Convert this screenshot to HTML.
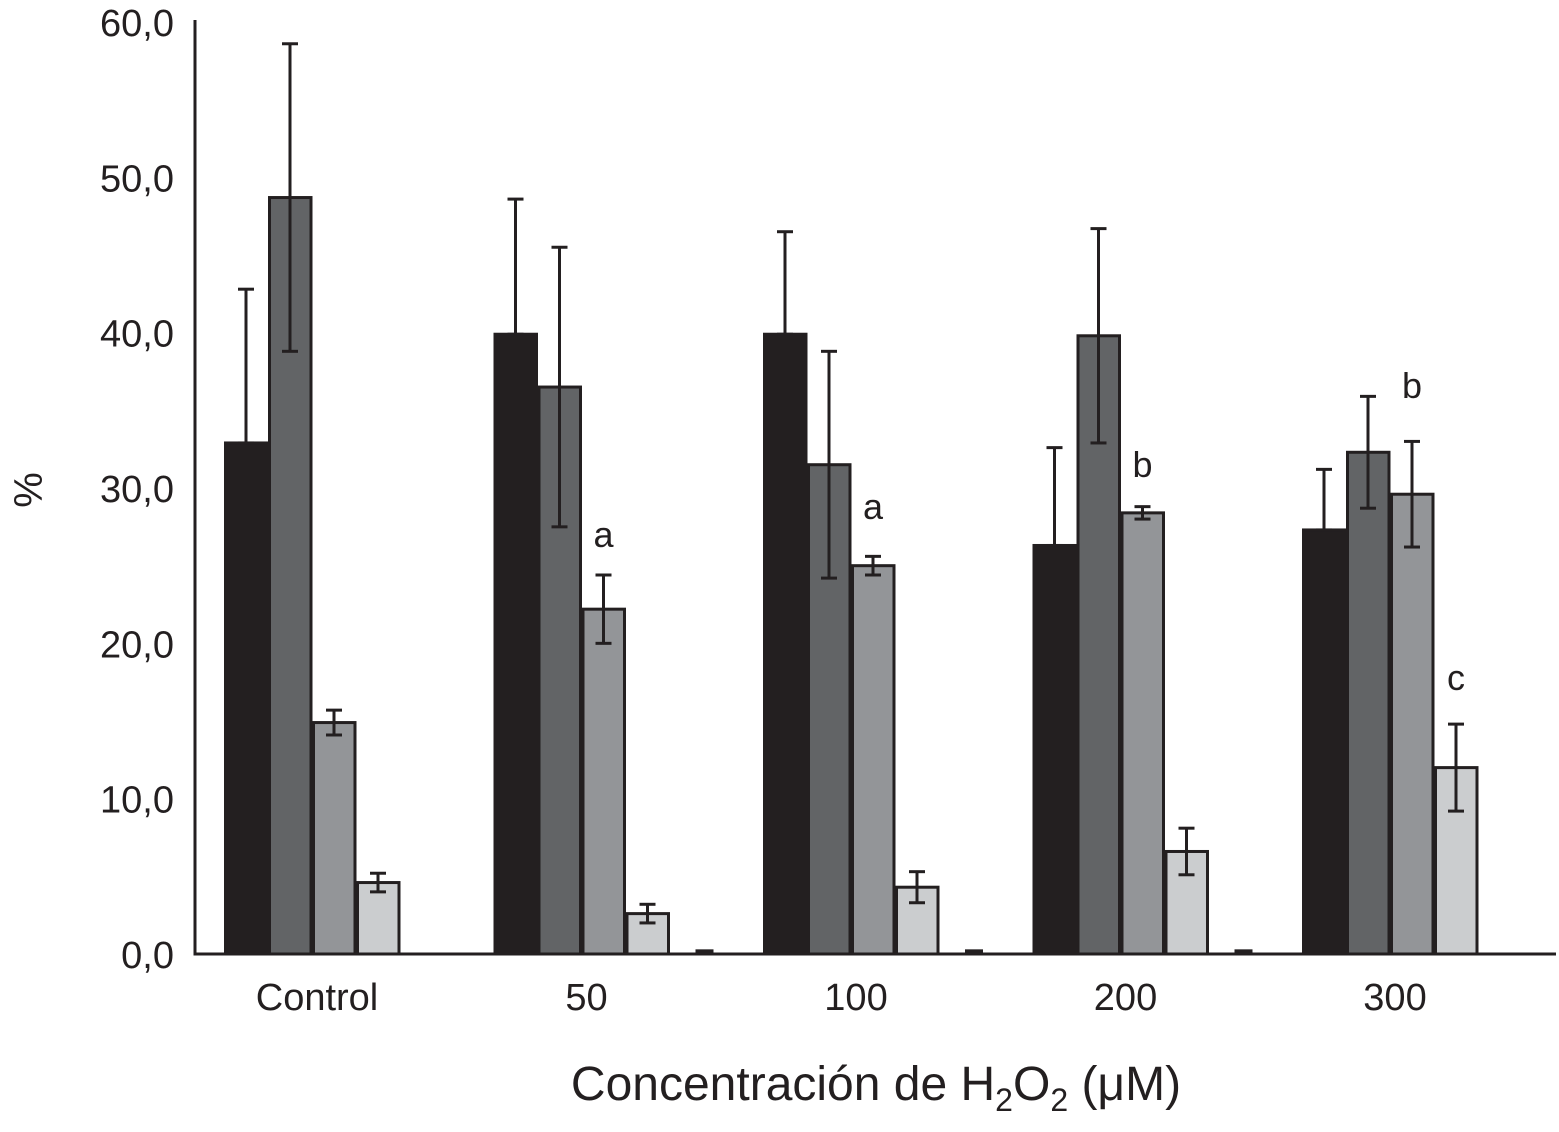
<!DOCTYPE html>
<html><head><meta charset="utf-8"><style>
body{margin:0;background:#fff}
svg text{font-family:"Liberation Sans",Arial,sans-serif;fill:#231f20}
</style></head><body>
<svg width="1559" height="1127" viewBox="0 0 1559 1127" id="chart">
</svg>
<script>
const categories=["Control","50","100","200","300"];
const s1=[32.9,39.9,39.9,26.3,27.3];
const s1Hi=[42.8,48.6,46.5,32.6,31.2];
const s2=[48.7,36.5,31.5,39.8,32.3];
const s2Err=[9.9,9.0,7.3,6.9,3.6];
const s3=[14.9,22.2,25.0,28.4,29.6];
const s3Err=[0.8,2.2,0.6,0.4,3.4];
const s4=[4.6,2.6,4.3,6.6,12.0];
const s4Err=[0.6,0.6,1.0,1.5,2.8];
const s5=[null,0.1,0.1,0.1,null];
const yTicks=[0,10,20,30,40,50,60];
const yTickLabels=["0,0","10,0","20,0","30,0","40,0","50,0","60,0"];
const letters=[["a",1,2],["a",2,2],["b",3,2],["b",4,2],["c",4,3]];
const letterVals=[26.2,28.0,30.7,35.8,17.0];

const svg=document.getElementById('chart');
const NS='http://www.w3.org/2000/svg';
const y=v=>954-v*15.533;
const gx=i=>224+i*269.5;
function mk(t,a,p){const e=document.createElementNS(NS,t);for(const k in a)e.setAttribute(k,a[k]);(p||svg).appendChild(e);return e;}
yTicks.forEach((v,i)=>{
 const t=mk('text',{x:174,y:y(v)+14,'text-anchor':'end','font-size':38});
 t.textContent=yTickLabels[i];
 
 
});
const cols=['#231f20','#626466','#939598','#cbcdcf'];
const series=[s1,s2,s3,s4];
function eb(cx,lo,hi){
 const g=mk('g',{stroke:'#231f20','stroke-width':3});
 
 
 mk('line',{x1:cx,x2:cx,y1:y(hi),y2:y(lo)},g);
 mk('line',{x1:cx-8,x2:cx+8,y1:y(hi),y2:y(hi)},g);
 mk('line',{x1:cx-8,x2:cx+8,y1:y(lo),y2:y(lo)},g);
}
categories.forEach((c,i)=>{
 series.forEach((s,k)=>{
  const x=gx(i)+k*44;
  const r=mk('rect',{x:x+1.5,y:y(s[i]),width:41.5,height:954-y(s[i]),fill:cols[k],stroke:'#231f20','stroke-width':3});
  
  
 });
 const cx=k=>gx(i)+k*44+22;
 eb(cx(0),s1[i],s1Hi[i]);
 eb(cx(1),s2[i]-s2Err[i],s2[i]+s2Err[i]);
 eb(cx(2),s3[i]-s3Err[i],s3[i]+s3Err[i]);
 eb(cx(3),s4[i]-s4Err[i],s4[i]+s4Err[i]);
 if(s5[i]!==null){
  const r=mk('rect',{x:gx(i)+202,y:y(s5[i]+0.2),width:18,height:954-y(s5[i]+0.2),fill:'#231f20'});
  
  
 }
 const t=mk('text',{x:gx(i)+93,y:1010,'text-anchor':'middle','font-size':38});
 t.textContent=c;
 
 
});
letters.forEach((l,j)=>{
 const t=mk('text',{x:gx(l[1])+l[2]*44+22,y:y(letterVals[j]),'text-anchor':'middle','font-size':36});
 t.textContent=l[0];
 
 
});
const ax=mk('path',{d:'M195 20 V954 H1556',fill:'none',stroke:'#231f20','stroke-width':3});


const yt=mk('text',{x:0,y:0,transform:'translate(42,490) rotate(-90)','text-anchor':'middle','font-size':40});
yt.textContent='%';


const xt=mk('text',{x:876,y:1100,'text-anchor':'middle','font-size':48});
xt.innerHTML='Concentración de H<tspan font-size="32" dy="11">2</tspan><tspan dy="-11">O</tspan><tspan font-size="32" dy="11">2</tspan><tspan dy="-11"> (μM)</tspan>';


</script>
</body></html>
